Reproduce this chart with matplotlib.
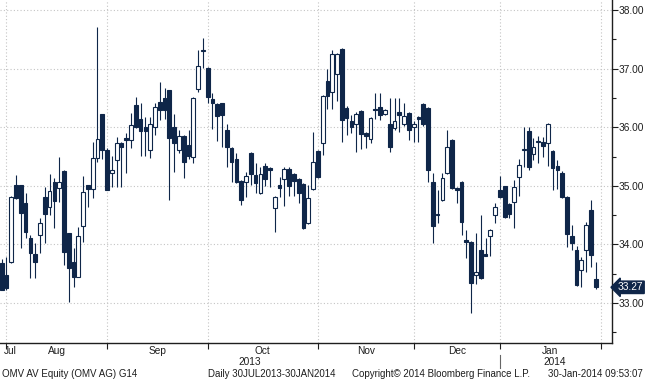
import matplotlib
matplotlib.use("Agg")
import matplotlib.pyplot as plt
import matplotlib.transforms as mtransforms
from matplotlib.ticker import MultipleLocator, FormatStrFormatter

plt.rcParams['font.family'] = ['Liberation Sans', 'DejaVu Sans']

# OMV AV Equity, daily OHLC 30JUL2013-30JAN2014
opens = [33.68, 33.48, 33.70, 35.01, 35.01, 34.71, 34.11, 33.84, 34.16, 34.81,
         34.64, 35.06, 34.96, 35.25, 34.19, 33.70, 33.44, 34.31, 35.01, 34.95,
         35.47, 36.23, 35.61, 35.22, 35.44, 35.73, 35.82, 35.78, 36.38, 36.14,
         36.00, 35.61, 36.00, 36.43, 36.50, 36.63, 36.00, 35.61, 35.85, 35.70,
         35.49, 36.65, 37.30, 37.01, 36.48, 36.40, 36.41, 35.95, 35.65, 35.46,
         35.08, 35.07, 35.56, 35.18, 34.88, 35.34, 35.30, 34.62, 35.01, 35.12,
         35.29, 35.20, 35.12, 35.03, 34.37, 34.95, 35.59, 35.73, 36.79, 36.60,
         36.91, 37.33, 36.33, 36.11, 36.05, 36.28, 35.90, 35.80, 36.31, 36.34,
         36.23, 36.05, 35.99, 36.26, 36.05, 36.24, 36.00, 36.17, 36.40, 36.33,
         35.06, 34.52, 34.76, 35.22, 35.78, 34.96, 35.06, 34.07, 34.04, 33.48,
         33.90, 33.83, 34.15, 34.50, 34.93, 35.00, 34.69, 34.72, 35.15, 35.61,
         35.94, 35.54, 35.75, 35.75, 35.73, 35.59, 35.34, 35.22, 34.81, 34.14,
         33.90, 33.56, 33.90, 34.59, 33.41]
highs = [33.75, 33.79, 34.83, 35.18, 35.01, 34.88, 34.16, 34.02, 34.45, 34.98,
         35.20, 35.13, 35.49, 35.27, 34.19, 33.94, 34.30, 35.17, 35.01, 35.75,
         37.71, 36.23, 35.65, 35.51, 35.83, 35.75, 35.90, 36.24, 36.52, 36.41,
         36.17, 36.17, 36.41, 36.77, 36.67, 36.63, 36.23, 35.95, 35.87, 35.95,
         36.52, 37.32, 37.52, 37.03, 36.58, 36.41, 36.42, 36.06, 35.66, 35.56,
         35.10, 35.24, 35.58, 35.39, 35.32, 35.39, 35.32, 34.83, 35.15, 35.32,
         35.32, 35.22, 35.13, 35.05, 35.01, 35.92, 35.61, 36.55, 36.99, 37.32,
         37.27, 37.35, 36.36, 36.21, 36.26, 36.30, 35.92, 36.18, 36.58, 36.58,
         36.31, 36.50, 36.50, 36.50, 36.41, 36.26, 36.10, 36.19, 36.41, 36.35,
         35.22, 34.93, 35.22, 35.95, 35.80, 34.98, 35.08, 34.25, 34.06, 34.20,
         34.50, 34.11, 34.27, 34.71, 35.17, 35.00, 34.71, 35.10, 35.46, 36.00,
         36.00, 35.82, 35.85, 35.83, 36.07, 35.61, 35.44, 35.25, 34.83, 34.33,
         33.97, 33.78, 34.38, 34.76, 33.70]
lows = [33.22, 33.22, 33.68, 34.78, 33.94, 34.11, 33.43, 33.43, 33.85, 34.02,
        34.50, 34.28, 34.72, 33.65, 33.02, 33.27, 33.44, 34.04, 34.64, 34.79,
        35.41, 35.46, 34.93, 34.98, 34.98, 34.98, 35.22, 35.64, 35.98, 35.51,
        35.51, 35.47, 35.87, 36.12, 36.14, 34.76, 35.24, 35.56, 35.13, 35.46,
        35.39, 36.60, 37.01, 36.41, 35.97, 35.76, 35.66, 35.32, 35.07, 35.05,
        34.67, 34.81, 35.01, 34.88, 34.86, 35.00, 34.98, 34.21, 34.81, 34.66,
        34.83, 34.83, 34.71, 34.26, 34.35, 34.93, 35.13, 35.53, 36.31, 36.31,
        36.45, 35.75, 35.87, 35.90, 35.58, 35.63, 35.65, 35.73, 36.14, 36.12,
        36.21, 35.58, 35.95, 35.92, 36.02, 35.78, 35.75, 35.75, 36.02, 35.06,
        34.02, 34.37, 34.74, 35.20, 34.94, 34.71, 34.16, 33.77, 32.83, 33.32,
        33.41, 33.80, 33.80, 34.37, 34.79, 34.45, 34.45, 34.28, 34.83, 35.32,
        35.27, 35.44, 35.39, 35.49, 35.34, 34.93, 34.95, 34.79, 33.96, 33.90,
        33.29, 33.27, 33.53, 33.61, 33.24]
closes = [33.22, 33.26, 34.81, 34.80, 34.54, 34.21, 33.85, 33.70, 34.37, 34.52,
          34.91, 34.74, 35.06, 33.87, 33.60, 33.44, 34.14, 34.89, 34.95, 35.47,
          35.80, 35.61, 34.93, 35.27, 35.73, 35.66, 35.78, 36.04, 36.00, 35.94,
          35.94, 36.05, 36.34, 36.29, 36.29, 35.82, 35.73, 35.85, 35.41, 35.51,
          36.50, 37.04, 37.32, 36.52, 36.41, 36.19, 36.21, 35.66, 35.41, 35.07,
          34.76, 35.17, 35.20, 35.05, 35.20, 35.12, 35.27, 34.81, 34.96, 35.29,
          35.00, 35.08, 34.88, 34.28, 34.79, 35.41, 35.15, 36.53, 36.53, 37.25,
          37.25, 36.12, 36.16, 36.00, 36.23, 35.88, 35.85, 36.16, 36.29, 36.21,
          36.29, 35.66, 36.11, 36.21, 36.19, 35.95, 36.06, 36.14, 36.05, 35.27,
          34.31, 34.50, 35.13, 35.66, 34.96, 34.93, 34.38, 34.05, 33.34, 33.53,
          33.43, 33.81, 34.25, 34.64, 34.81, 34.47, 34.52, 34.98, 35.36, 35.63,
          35.32, 35.66, 35.77, 35.68, 36.05, 35.30, 35.27, 34.81, 34.18, 34.02,
          33.31, 33.73, 34.33, 33.82, 33.27]

# índice do primeiro pregão de cada mês (Aug..Feb) e posições dos rótulos
month_starts = [1, 22, 43, 66, 86, 104, 125]
month_names = ['Jul', 'Aug', 'Sep', 'Oct', 'Nov', 'Dec', 'Jan']
month_label_pos = [1.7, 11.5, 32.5, 54.5, 76, 95, 114.5]
year_names = ['2013', '2014']
year_label_pos = [51.8, 115.5]
year_break = 104
last_price = closes[-1]

navy = '#0f2649'
grid_col = '#c4c4c4'
txt_col = '#1e1e1e'

fig = plt.figure(figsize=(6.45, 3.8), dpi=100)
ax = fig.add_axes([0.0, 37 / 380, 612 / 645, 343 / 380])

idx = list(range(len(opens)))
up = [c >= o for o, c in zip(opens, closes)]

# pavios
ax.vlines(idx, lows, highs, color=navy, linewidth=0.8, zorder=2)

# corpos
bottoms = [min(o, c) for o, c in zip(opens, closes)]
heights = [max(abs(c - o), 0.015) for o, c in zip(opens, closes)]
faces = ['white' if u else navy for u in up]
ax.bar(idx, heights, bottom=bottoms, width=0.78, color=faces,
       edgecolor=navy, linewidth=0.8, zorder=3)

ax.set_xlim(-0.35, 127.4)
ax.set_ylim(32.32, 38.17)

# eixo y à direita
ax.yaxis.tick_right()
ax.yaxis.set_major_locator(MultipleLocator(1))
ax.yaxis.set_minor_locator(MultipleLocator(0.5))
ax.yaxis.set_major_formatter(FormatStrFormatter('%.2f'))
ax.tick_params(axis='y', which='major', direction='out', length=4, width=0.8,
               color=txt_col, labelsize=7.3, labelcolor=txt_col, pad=0.8)
ax.tick_params(axis='y', which='minor', direction='out', length=3, width=0.8,
               color=txt_col)

# eixo x
ax.set_xticks(month_starts)
ax.set_xticklabels([])
ax.tick_params(axis='x', which='major', direction='out', length=4, width=0.8,
               color=txt_col)

ax.grid(True, which='major', color=grid_col, linestyle=(0, (1, 2)), linewidth=0.8)
ax.set_axisbelow(True)

for s in ['top', 'left']:
    ax.spines[s].set_visible(False)
for s in ['bottom', 'right']:
    ax.spines[s].set_color(txt_col)
    ax.spines[s].set_linewidth(1.0)

trans = mtransforms.blended_transform_factory(ax.transData, fig.transFigure)
for name, pos in zip(month_names, month_label_pos):
    ax.text(pos, 1 - 351 / 380, name, transform=trans, ha='center', va='center',
            fontsize=7.3, color=txt_col)
for name, pos in zip(year_names, year_label_pos):
    ax.text(pos, 1 - 362 / 380, name, transform=trans, ha='center', va='center',
            fontsize=7.3, color=txt_col)
ax.plot([year_break, year_break], [1 - 355 / 380, 1 - 368 / 380], transform=trans,
        color='#666666', linewidth=0.8, clip_on=False)

# rótulo do último preço
trans_y = mtransforms.blended_transform_factory(fig.transFigure, ax.transData)
ax.text(643 / 645, last_price, '%.2f' % last_price, transform=trans_y, ha='right',
        va='center', fontsize=7.3, color='white',
        bbox=dict(boxstyle='larrow,pad=0.12', fc=navy, ec=navy))

# rodapé
fy = 1 - 374 / 380
fig.text(2 / 645, fy, 'OMV AV Equity (OMV AG) G14', ha='left', va='center',
         fontsize=7, color=txt_col)
fig.text(208 / 645, fy, 'Daily 30JUL2013-30JAN2014', ha='left', va='center',
         fontsize=7, color=txt_col)
fig.text(352 / 645, fy, 'Copyright\u00a9 2014 Bloomberg Finance L.P.', ha='left',
         va='center', fontsize=7, color=txt_col)
fig.text(643 / 645, fy, '30-Jan-2014 09:53:07', ha='right', va='center',
         fontsize=7, color=txt_col)

fig.savefig('out.png', dpi=100)
